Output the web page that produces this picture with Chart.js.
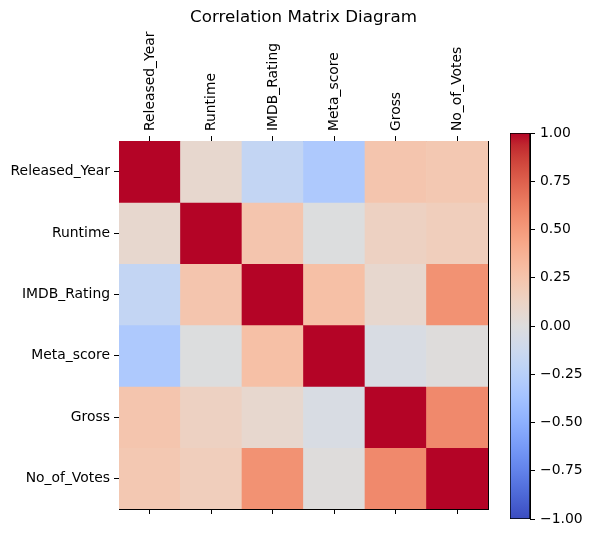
<!DOCTYPE html>
<html>
<head>
<meta charset="utf-8">
<script src="https://cdn.jsdelivr.net/npm/chart.js@4.4.1/dist/chart.umd.min.js"></script>
<style>
  html, body { margin: 0; padding: 0; background: #fff; }
  #wrap { position: relative; width: 591px; height: 537px; }
  #matrix { position: absolute; left: 0; top: 0; }
  #cbar { position: absolute; left: 480px; top: 100px; }
</style>
</head>
<body>
<div id="wrap">
  <canvas id="matrix" width="591" height="537"></canvas>
  <canvas id="cbar" width="111" height="437"></canvas>
</div>
<script>
// variables of the correlation matrix (rows top to bottom, columns left to right)
const variables = ['Released_Year', 'Runtime', 'IMDB_Rating', 'Meta_score', 'Gross', 'No_of_Votes'];

// one row of correlations per variable
const releasedYear = [1.00, 0.08, -0.18, -0.31, 0.24, 0.22];
const runtime      = [0.08, 1.00, 0.24, -0.01, 0.14, 0.17];
const imdbRating   = [-0.18, 0.24, 1.00, 0.28, 0.08, 0.54];
const metaScore    = [-0.31, -0.01, 0.28, 1.00, -0.04, 0.01];
const gross        = [0.24, 0.14, 0.08, -0.04, 1.00, 0.58];
const noOfVotes    = [0.22, 0.17, 0.54, 0.01, 0.58, 1.00];

const corrRows = [releasedYear, runtime, imdbRating, metaScore, gross, noOfVotes];

// colour bar range and ticks
const cbarMin = -1;
const cbarMax = 1;
const cbarStep = 0.25;

// matplotlib "coolwarm" colour map samples
const coolwarm = [
  [59,76,192],[68,90,204],[77,104,215],[87,117,225],[98,130,234],[108,142,241],
  [119,154,247],[130,165,251],[141,176,254],[152,185,255],[163,194,255],[174,201,253],
  [184,208,249],[194,213,244],[204,217,238],[213,219,230],[221,221,221],[229,216,209],
  [236,211,197],[241,204,184],[245,196,172],[247,187,160],[247,177,148],[247,166,135],
  [244,154,123],[241,141,111],[236,127,99],[229,112,88],[222,96,77],[213,80,66],
  [203,62,56],[192,40,47],[180,4,38]
];

function colorAt(t) {
  t = Math.max(0, Math.min(1, t));
  const pos = t * (coolwarm.length - 1);
  const i = Math.min(Math.floor(pos), coolwarm.length - 2);
  const f = pos - i;
  const a = coolwarm[i], b = coolwarm[i + 1];
  const c = a.map((v, k) => Math.round(v + (b[k] - v) * f));
  return `rgb(${c[0]},${c[1]},${c[2]})`;
}

function corrColor(v) {
  return colorAt((v - cbarMin) / (cbarMax - cbarMin));
}

Chart.defaults.font.family = "'DejaVu Sans', sans-serif";
Chart.defaults.color = '#000';

const tickFont = { size: 13.9 };

// matrix: one stacked dataset per row, each cell one unit tall
new Chart(document.getElementById('matrix'), {
  type: 'bar',
  data: {
    labels: variables,
    datasets: corrRows.map((row, r) => ({
      label: variables[r],
      data: row.map(() => 1),
      corr: row,
      backgroundColor: row.map(corrColor),
      borderWidth: 0,
      barPercentage: 1,
      categoryPercentage: 1,
      stack: 'matrix'
    }))
  },
  options: {
    responsive: false,
    animation: false,
    layout: { padding: { left: 0, right: 103, top: 0, bottom: 23 } },
    plugins: {
      legend: { display: false },
      title: {
        display: true,
        text: 'Correlation Matrix Diagram',
        fullSize: false,
        color: '#000',
        font: { size: 16.7, weight: 'normal' },
        padding: { top: 8, bottom: 3 }
      },
      tooltip: {
        callbacks: {
          title: items => items[0].dataset.label + ' / ' + items[0].label,
          label: item => item.dataset.corr[item.dataIndex].toFixed(2)
        }
      }
    },
    scales: {
      x: {
        position: 'top',
        stacked: true,
        offset: true,
        grid: { drawOnChartArea: false, offset: false, tickLength: 5, color: '#000' },
        border: { display: true, color: '#000', width: 1 },
        ticks: { autoSkip: false, minRotation: 90, maxRotation: 90, padding: 5, labelOffset: 17, font: tickFont, color: '#000' },
        afterFit: s => { s.height = 110; }
      },
      x2: {
        type: 'category',
        position: 'bottom',
        labels: variables,
        offset: true,
        grid: { drawOnChartArea: false, offset: false, tickLength: 5, color: '#000' },
        border: { display: true, color: '#000', width: 1 },
        ticks: { display: false },
        afterFit: s => { s.height = 5; }
      },
      y: {
        type: 'linear',
        stacked: true,
        reverse: true,
        min: 0,
        max: variables.length,
        afterBuildTicks: s => { s.ticks = variables.map((v, i) => ({ value: i + 0.5 })); },
        grid: { drawOnChartArea: false, tickLength: 5, color: '#000' },
        border: { display: true, color: '#000', width: 1 },
        ticks: { callback: v => variables[Math.floor(v)], padding: 4, font: tickFont, color: '#000' },
        afterFit: s => { s.width = 119; }
      },
      y2: {
        type: 'linear',
        position: 'right',
        min: 0,
        max: 1,
        grid: { display: false },
        border: { display: true, color: '#000', width: 1 },
        ticks: { display: false },
        afterFit: s => { s.width = 0; }
      }
    }
  }
});

// colour bar: a single floating bar from cbarMin to cbarMax filled with the colour map
new Chart(document.getElementById('cbar'), {
  type: 'bar',
  data: {
    labels: [''],
    datasets: [{
      data: [[cbarMin, cbarMax]],
      backgroundColor: c => {
        const chart = c.chart;
        if (!chart.chartArea) return null;
        const y = chart.scales.y;
        const g = chart.ctx.createLinearGradient(0, y.getPixelForValue(cbarMin), 0, y.getPixelForValue(cbarMax));
        coolwarm.forEach((col, i) => g.addColorStop(i / (coolwarm.length - 1), `rgb(${col[0]},${col[1]},${col[2]})`));
        return g;
      },
      borderColor: '#000',
      borderWidth: 1,
      borderSkipped: false,
      barPercentage: 1,
      categoryPercentage: 1
    }]
  },
  options: {
    responsive: false,
    animation: false,
    layout: { padding: { left: 30, right: 0, top: 33, bottom: 18 } },
    plugins: { legend: { display: false }, tooltip: { enabled: false } },
    scales: {
      x: { display: false },
      y: {
        position: 'right',
        min: cbarMin,
        max: cbarMax,
        grid: { drawOnChartArea: false, tickLength: 5, color: '#000' },
        border: { display: true, color: '#000', width: 1 },
        ticks: {
          stepSize: cbarStep,
          padding: 5,
          font: tickFont,
          color: '#000',
          callback: v => (v < 0 ? '\u2212' : '') + Math.abs(v).toFixed(2)
        },
        afterFit: s => { s.width = 61; }
      }
    }
  }
});
</script>
</body>
</html>
